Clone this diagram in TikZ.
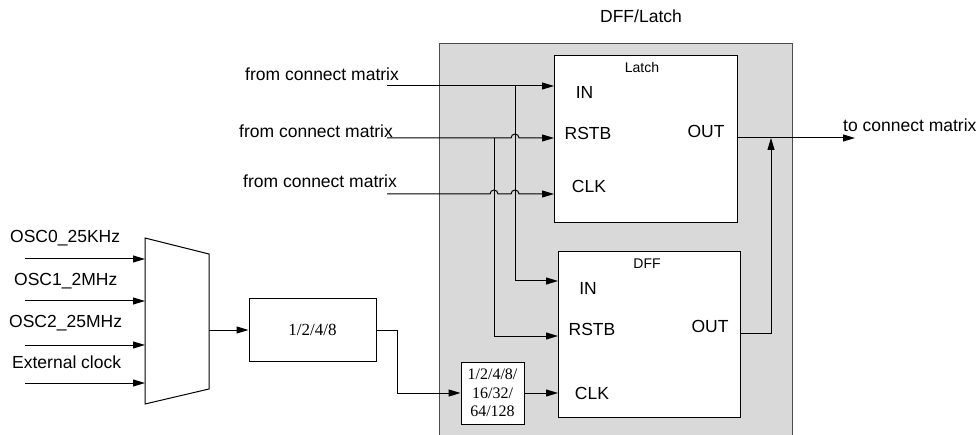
\documentclass[tikz,border=0pt]{standalone}
\usepackage{fontspec}
\setmainfont{Liberation Sans}
\newfontfamily\myserif{Liberation Serif}
\usetikzlibrary{arrows.meta}
\begin{document}
\begin{tikzpicture}[x=1pt,y=-1pt,
  every node/.style={inner sep=0pt, font=\fontsize{17.5}{20}\selectfont},
  box/.style={draw, fill=white, line width=1pt},
  wire/.style={line width=1pt},
  arr/.style={wire, -{Triangle[length=12pt,width=7pt]}},
  small/.style={font=\fontsize{14}{16}\selectfont},
  lbl/.style={anchor=west}
]
\useasboundingbox (0,0) rectangle (979,435);
% group box
\node[draw=black!70, fill=black!15, line width=1pt, minimum width=353pt, minimum height=400pt, anchor=north west] (grp) at (439,43) {};
\node (title) at (641,16) {DFF/Latch};
% latch and dff
\node[box, minimum width=183pt, minimum height=167pt, anchor=north west] (latch) at (554,55) {};
\node[box, minimum width=182pt, minimum height=166pt, anchor=north west] (dff) at (558,251) {};
\node[small] (latchlbl) at (642,68) {Latch};
\node[small] (dfflbl) at (647,264) {DFF};
\node (lIN) at (584.5,92) {IN};
\node (lRS) at (588,133) {RSTB};
\node (lCK) at (589,186) {CLK};
\node (lOUT) at (706,131) {OUT};
\node (dIN) at (588,288) {IN};
\node (dRS) at (592,329) {RSTB};
\node (dCK) at (592,393) {CLK};
\node (dOUT) at (710,326) {OUT};
% dividers
\node[box, minimum width=63pt, minimum height=62pt, align=center, font=\myserif\fontsize{16}{18.5}\selectfont] (div) at (492.5,393) {1/2/4/8/\\16/32/\\64/128};
\node[box, minimum width=127pt, minimum height=62pt, font=\myserif\fontsize{17}{19}\selectfont] (div1) at (312.5,330) {1/2/4/8};
% mux
\coordinate (m1) at (145,238);
\coordinate (m2) at (209,254);
\coordinate (m3) at (209,389);
\coordinate (m4) at (145,404);
\draw[line width=1pt, fill=white] (m1) -- (m2) -- (m3) -- (m4) -- cycle;
\coordinate (muxout) at (209,330);
% mux inputs
\coordinate (i0) at (25,259);
\coordinate (i1) at (25,301);
\coordinate (i2) at (25,345);
\coordinate (i3) at (25,383);
\foreach \c in {i0,i1,i2,i3}{\draw[arr] (\c) -- (\c -| m1);}
\node[lbl] (t0) at (10,238) {OSC0\_25KHz};
\node[lbl] (t1) at (14,281) {OSC1\_2MHz};
\node[lbl] (t2) at (9,323) {OSC2\_25MHz};
\node[lbl] (t3) at (12,362) {External clock};
\draw[arr] (muxout) -- (muxout -| div1.west);
% divider chain
\coordinate (kink) at (397,330);
\draw[arr] (div1.east) -- (kink) |- (div.west);
\draw[arr] (div.east) -- (div.east -| dff.west);
% latch inputs
\coordinate (sIN) at (387,86);
\coordinate (sRS) at (387,138);
\coordinate (sCK) at (387,194);
\coordinate (bIN) at (515,86);
\coordinate (bRS) at (494,138);
\node[lbl] (f0) at (245,74) {from connect matrix};
\node[lbl] (f1) at (239,131) {from connect matrix};
\node[lbl] (f2) at (243,181) {from connect matrix};
\draw[arr] (sIN) -- (sIN -| latch.west);
\draw[arr] (sRS) -- ([xshift=-4pt]bIN |- sRS) arc[start angle=180, end angle=0, radius=4pt] -- (sRS -| latch.west);
\draw[arr] (sCK) -- ([xshift=-4pt]bRS |- sCK) arc[start angle=180, end angle=0, radius=4pt]
  -- ([xshift=-4pt]bIN |- sCK) arc[start angle=180, end angle=0, radius=4pt] -- (sCK -| latch.west);
% branches to dff
\coordinate (yDIN) at (0,281);
\coordinate (yDRS) at (0,336);
\draw[arr] (bIN) |- (yDIN -| dff.west);
\draw[arr] (bRS) |- (yDRS -| dff.west);
% outputs
\coordinate (yLO) at (0,138);
\coordinate (tgt) at (855,138);
\coordinate (jn) at (771,138);
\coordinate (yDO) at (0,333);
\draw[arr] (yLO -| latch.east) -- (tgt);
\draw[arr] (yDO -| dff.east) -| (jn);
\node[lbl] (tc) at (843,125) {to connect matrix};
\end{tikzpicture}
\end{document}
